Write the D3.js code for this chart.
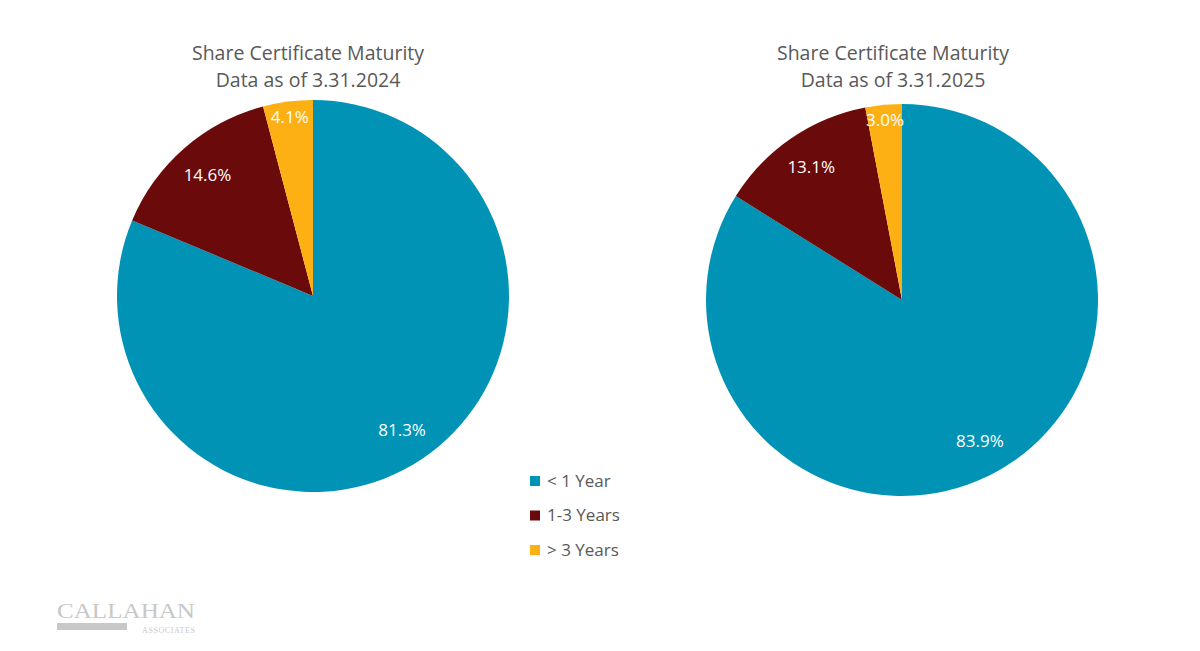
<!DOCTYPE html><html><head><meta charset="utf-8">
<script src="https://cdn.jsdelivr.net/npm/d3@7"></script>
<style>body{margin:0;background:#fff}text{font-family:"Open Sans",sans-serif}</style></head><body>
<svg id="c" width="1200" height="651"></svg>
<script>
const categories = ["< 1 Year", "1-3 Years", "> 3 Years"];
const colors = ["#0093B6", "#6B0A0B", "#FDB013"];
const values2024 = [81.3, 14.6, 4.1];
const values2025 = [83.9, 13.1, 3.0];
const titles = [["Share Certificate Maturity","Data as of 3.31.2024"],["Share Certificate Maturity","Data as of 3.31.2025"]];
const labelRadiusFrac = [0.82, 0.82, 0.92];

const svg = d3.select("#c");
const pie = d3.pie().sort(null).value(d => d);
const pies = [{vals: values2024, cx: 313, cy: 296, r: 196, tx: 308, ty: 60},
              {vals: values2025, cx: 902, cy: 300, r: 196, tx: 893, ty: 60}];
pies.forEach((p, i) => {
  const g = svg.append("g").attr("transform", `translate(${p.cx},${p.cy})`);
  const arc = d3.arc().innerRadius(0).outerRadius(p.r);
  const arcs = pie(p.vals);
  g.selectAll("path").data(arcs).join("path").attr("d", arc).attr("fill", (d, j) => colors[j]);
  g.selectAll("text").data(arcs).join("text")
    .attr("transform", (d, j) => { const lr = p.r * labelRadiusFrac[j]; const a = d3.arc().innerRadius(lr).outerRadius(lr); return `translate(${a.centroid(d)})`; })
    .attr("text-anchor", "middle").attr("dy", "0.35em").attr("fill", "#fff").attr("font-size", 17)
    .text(d => d.data.toFixed(1) + "%");
  const t = svg.append("text").attr("x", p.tx).attr("y", p.ty).attr("text-anchor", "middle").attr("fill", "#595959").attr("font-size", 19.5);
  titles[i].forEach((s, k) => t.append("tspan").attr("x", p.tx).attr("dy", k ? 27 : 0).text(s));
});
const lg = svg.append("g");
categories.forEach((c, i) => {
  const y = 481 + i * 34.5;
  lg.append("rect").attr("x", 530).attr("y", y - 5).attr("width", 10).attr("height", 10).attr("fill", colors[i]);
  lg.append("text").attr("x", 547).attr("y", y).attr("dy", "0.35em").attr("fill", "#595959").attr("font-size", 17).text(c);
});
// logo
svg.append("text").attr("x", 57).attr("y", 618).attr("fill", "#c8c8c8").attr("font-size", 22).style("font-family", "Liberation Serif, serif").attr("textLength", 138).attr("lengthAdjust", "spacingAndGlyphs").text("CALLAHAN");
svg.append("rect").attr("x", 57).attr("y", 623).attr("width", 70).attr("height", 7).attr("fill", "#c8c8c8");
svg.append("text").attr("x", 142).attr("y", 633).attr("fill", "#c8c8c8").attr("font-size", 8).style("font-family", "Liberation Serif, serif").attr("textLength", 53).text("ASSOCIATES");
</script></body></html>
